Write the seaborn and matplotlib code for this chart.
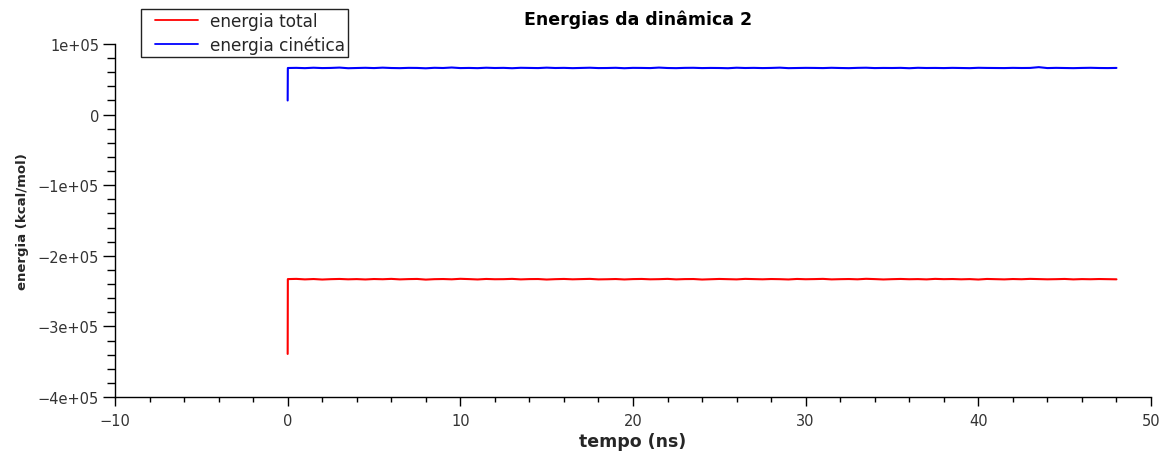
import numpy as np
import pandas as pd
import matplotlib
matplotlib.use("Agg")
import matplotlib.pyplot as plt
from matplotlib.ticker import MultipleLocator, FuncFormatter
from matplotlib.legend_handler import HandlerLine2D
import seaborn as sns

# Sampling times (ns): start of the run, first step, then every 0.5 ns
t_start = [0.0, 0.01]
t_run = list(np.arange(0.5, 48.01, 0.5))

# Kinetic energy (kcal/mol)
cinetica_start = [20000, 66000]
cinetica_run = [
    66200, 65800, 66400, 65900, 66100, 66600, 65700, 66000, 66300, 65900,
    66500, 66000, 65800, 66200, 66100, 65600, 66300, 66000, 66700, 65900,
    66100, 65800, 66400, 66000, 66200, 65700, 66300, 66100, 65900, 66500,
    66000, 66200, 65800, 66100, 66400, 65900, 66000, 66300, 65700, 66200,
    66100, 65900, 66600, 66000, 65800, 66200, 66300, 65900, 66100, 66000,
    65700, 66400, 66000, 66200, 65900, 66100, 66500, 65800, 66000, 66200,
    66100, 65900, 66300, 66000, 65800, 66200, 66400, 65900, 66100, 66000,
    66200, 65700, 66300, 66000, 66100, 65900, 66200, 66000, 65800, 66300,
    66100, 66000, 65900, 66200, 66000, 66100, 67200, 65900, 66200, 66000,
    65800, 66100, 66300, 66000, 65900, 66100,
]

# Total energy (kcal/mol)
total_start = [-339000, -233000]
total_run = [
    -232700, -233400, -232900, -233600, -233100, -232800, -233300, -233000, -233500, -232900,
    -233200, -232700, -233400, -233000, -232800, -233700, -233100, -232900, -233300, -232600,
    -233000, -233500, -232800, -233200, -233100, -232700, -233400, -233000, -232900, -233600,
    -233100, -232800, -233300, -233000, -232700, -233400, -233200, -232900, -233500, -233000,
    -232800, -233300, -233100, -232700, -233400, -233000, -232900, -233600, -233200, -232800,
    -233100, -233400, -232700, -233000, -233300, -232900, -233100, -233500, -232800, -233200,
    -233000, -232700, -233400, -233100, -232900, -233300, -232600, -233000, -233500, -233100,
    -232800, -233200, -233000, -233400, -232700, -233100, -232900, -233300, -233000, -233600,
    -232800, -233100, -233400, -232900, -233200, -232700, -233000, -233300, -233100, -232800,
    -233400, -233000, -233200, -232900, -233100, -233300,
]

series_names = ["energia total", "energia cinética"]
series_colors = ["#ff0000", "#0000ff"]

tempo = t_start + t_run
df = pd.DataFrame({
    "tempo": tempo + tempo,
    "energia": total_start + total_run + cinetica_start + cinetica_run,
    "serie": [series_names[0]] * len(tempo) + [series_names[1]] * len(tempo),
})

sns.set_style("white")
plt.rcParams["font.family"] = ["DejaVu Sans"]

fig = plt.figure(figsize=(11.64, 4.52), dpi=100)
ax = fig.add_axes([115 / 1164, 1 - 398 / 452, (1151 - 115) / 1164, (398 - 45) / 452])

sns.lineplot(data=df, x="tempo", y="energia", hue="serie", hue_order=series_names,
             palette=series_colors, linewidth=1.5, sort=False, estimator=None,
             ax=ax, legend=False)

ax.set_xlim(-10, 50)
ax.set_ylim(-4e5, 1e5)
ax.xaxis.set_major_locator(MultipleLocator(10))
ax.xaxis.set_minor_locator(MultipleLocator(2))
ax.yaxis.set_major_locator(MultipleLocator(1e5))
ax.yaxis.set_minor_locator(MultipleLocator(2e4))


def fmt_y(v, pos):
    if abs(v) < 1:
        return "0"
    m = v / 1e5
    s = "{:d}e+05".format(int(round(abs(m))))
    return ("\u2212" + s) if v < 0 else s


def fmt_x(v, pos):
    s = "{:d}".format(int(round(abs(v))))
    return ("\u2212" + s) if v < 0 else s


ax.yaxis.set_major_formatter(FuncFormatter(fmt_y))
ax.xaxis.set_major_formatter(FuncFormatter(fmt_x))

for side in ["top", "right"]:
    ax.spines[side].set_visible(False)
for side in ["left", "bottom"]:
    ax.spines[side].set_color("#000000")
    ax.spines[side].set_linewidth(1.0)

ax.tick_params(axis="x", which="major", direction="out", length=6.5, width=1.0,
               color="#000000", labelsize=10.5, labelcolor="#333333", pad=5,
               bottom=True)
ax.tick_params(axis="x", which="minor", direction="out", length=3.8, width=1.0,
               color="#000000", bottom=True)
ax.tick_params(axis="y", which="major", direction="out", length=8.5, width=1.0,
               color="#000000", labelsize=10.5, labelcolor="#333333", pad=3,
               left=True)
ax.tick_params(axis="y", which="minor", direction="out", length=5.5, width=1.0,
               color="#000000", left=True)

ax.set_xlabel("tempo (ns)", fontsize=12.5, fontweight="bold", labelpad=3)
ax.set_ylabel("energia (kcal/mol)", fontsize=9.5, fontweight="bold", labelpad=6)

fig.text(638 / 1164, 1 - 20 / 452, "Energias da dinâmica 2", ha="center", va="center",
         fontsize=12.5, fontweight="bold", color="#000000")

handles = [plt.Line2D([], [], color=c, linewidth=1.3) for c in series_colors]
leg = fig.legend(handles, series_names, loc="upper left",
                 bbox_to_anchor=(141 / 1164, 1 - 10 / 452),
                 handler_map={plt.Line2D: HandlerLine2D(xpad=0.65)},
                 fontsize=12.2, frameon=True, fancybox=False, framealpha=1,
                 edgecolor="#222222", handlelength=3.15, handletextpad=0.7,
                 borderpad=0.2, labelspacing=0.3, borderaxespad=0)
leg.get_frame().set_linewidth(1.0)

fig.savefig("out.png", dpi=100, facecolor="white")
